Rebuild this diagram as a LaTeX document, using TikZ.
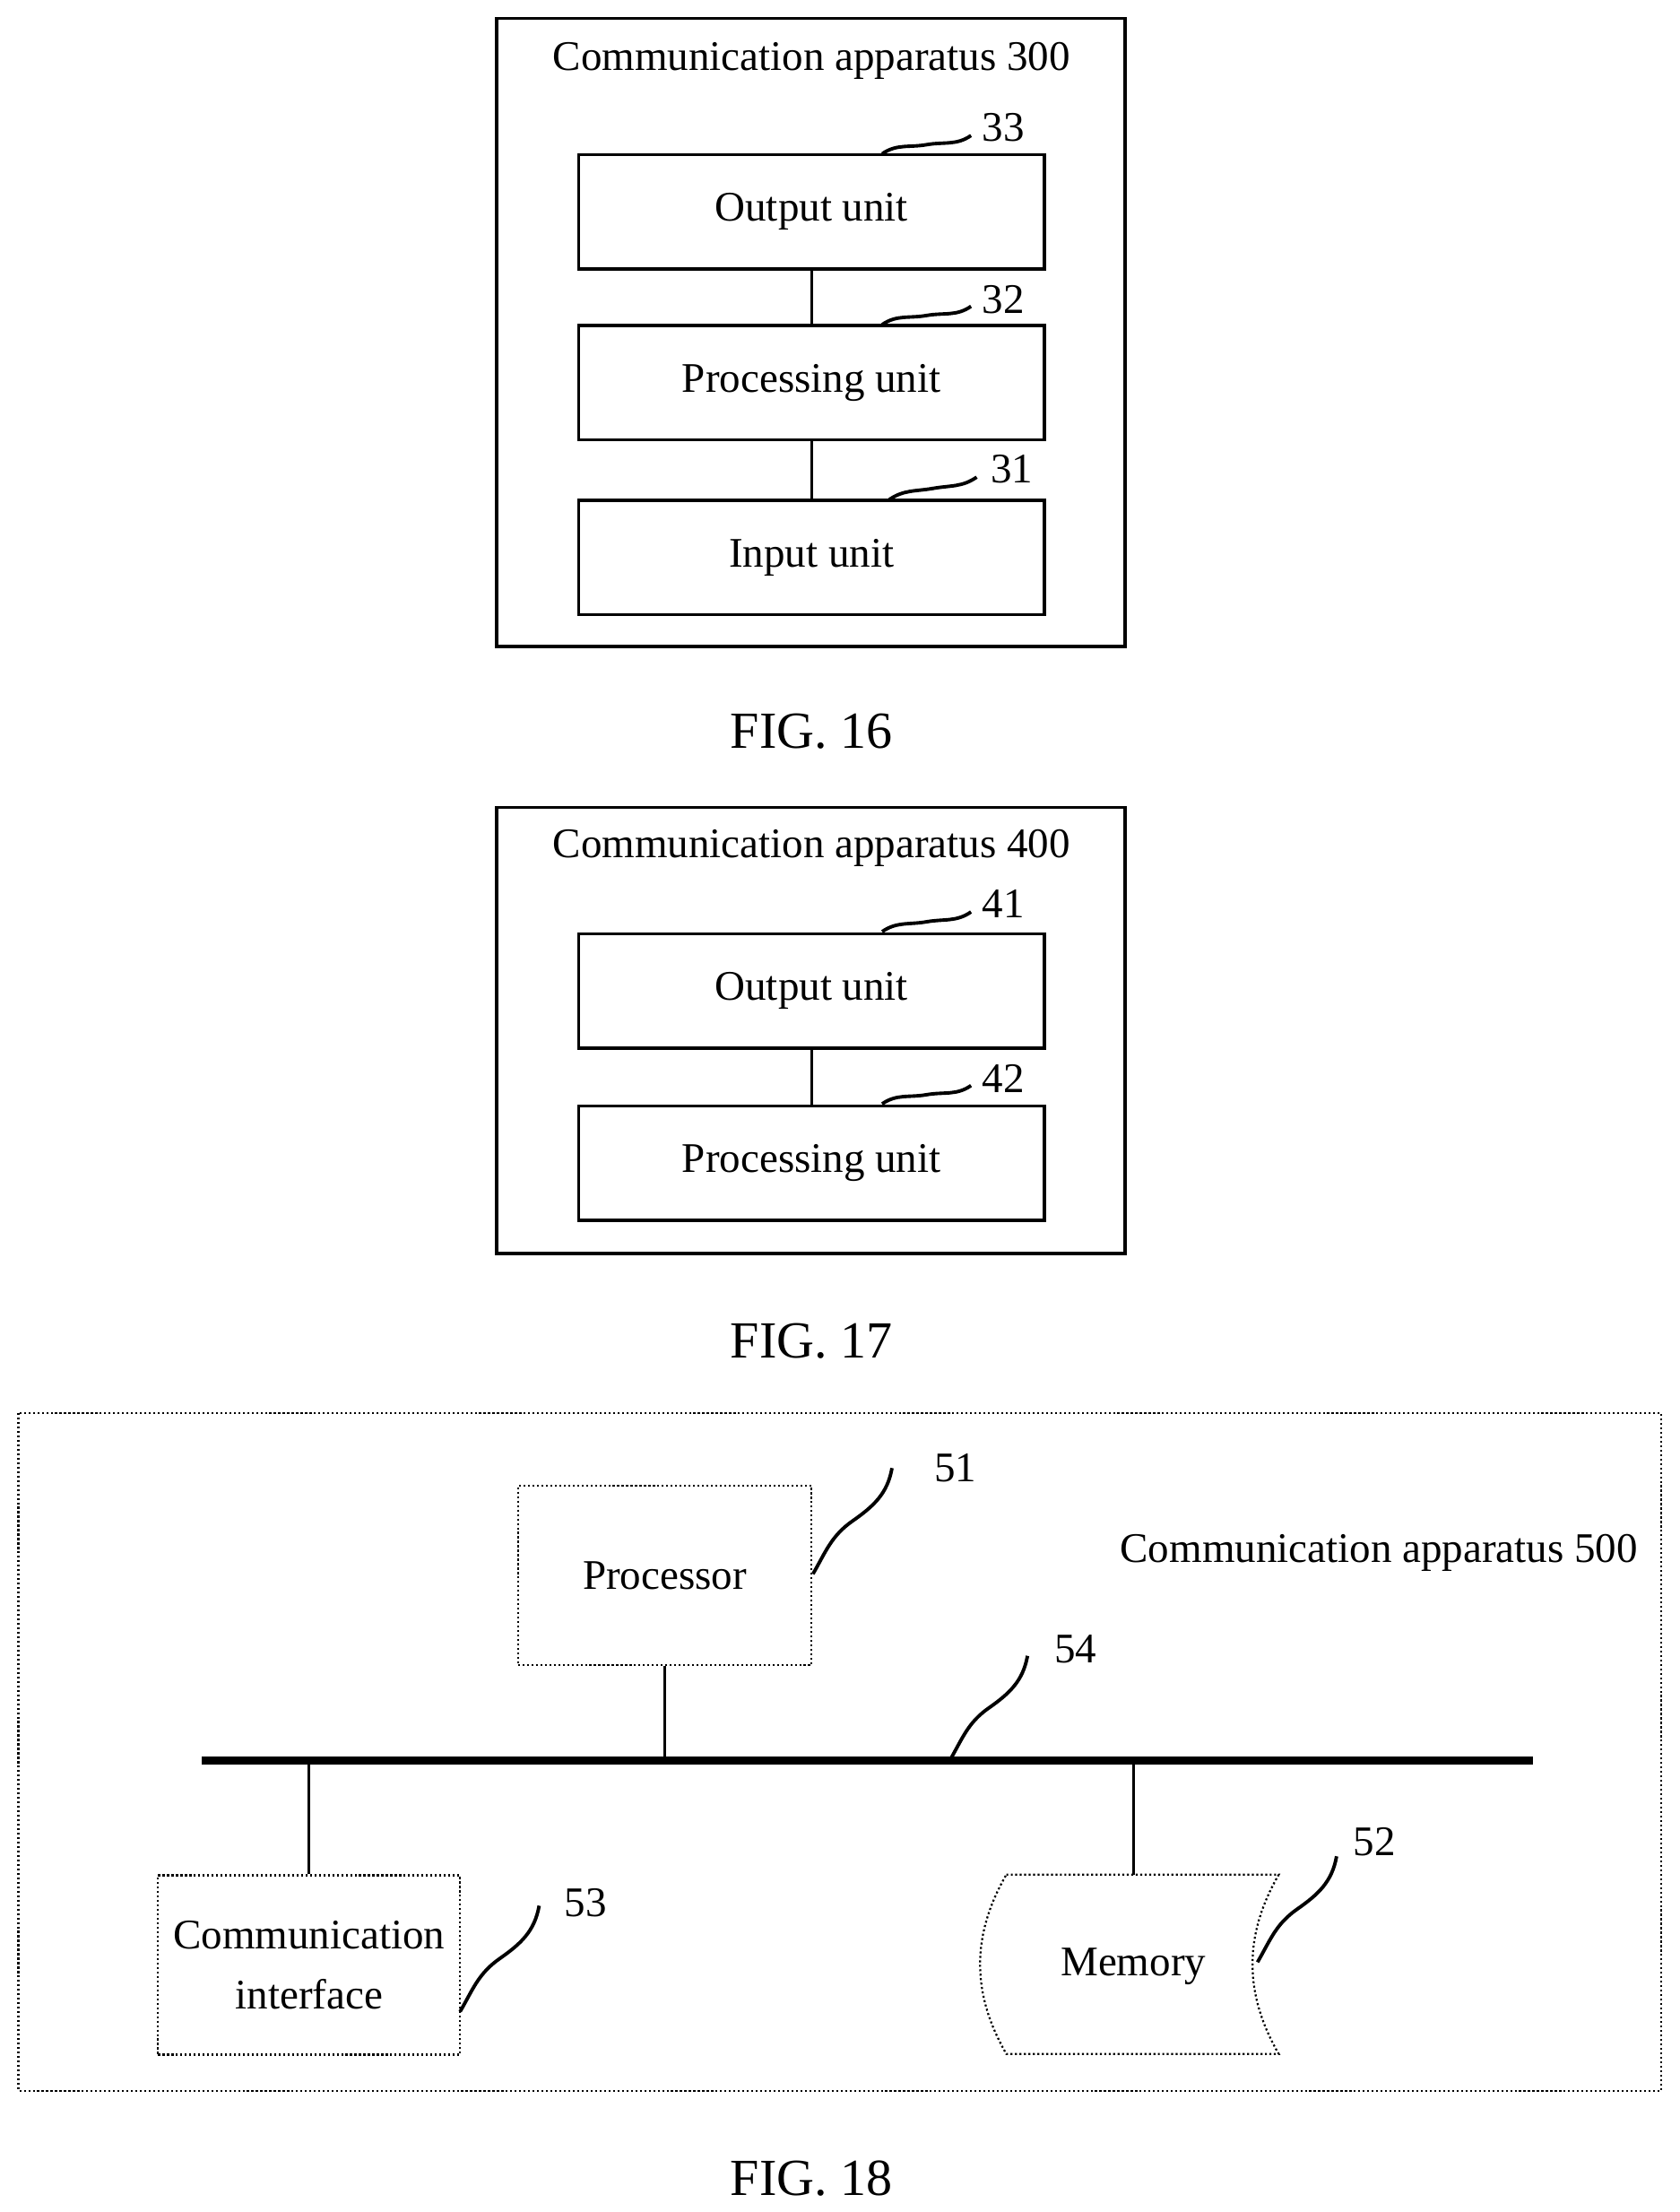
\documentclass[tikz,border=0pt]{standalone}
\usepackage{fontspec}
\setmainfont{Liberation Serif}
\usetikzlibrary{calc}

\tikzset{
  unit/.style = {draw, line width=1.2pt, minimum width=6.6cm, minimum height=1.62cm, inner sep=0pt},
  dotbox/.style = {draw, densely dotted, line width=0.8pt, inner sep=0pt, align=center},
  wig/.style = {line width=1.4pt}
}
\newcommand{\wiggle}[2]{\draw[wig] (#1) to[out=60,in=215] ($(#1)!0.5!(#2)$) to[out=35,in=260] (#2);}
\newcommand{\flatwig}[2]{\draw[wig] (#1) to[out=35,in=190] ($(#1)!0.5!(#2)$) to[out=10,in=215] (#2);}

\begin{document}
\begin{tikzpicture}[x=0.02cm, y=-0.02cm, font=\fontsize{17}{21}\selectfont]
\useasboundingbox (0,0) rectangle (1190,1567);

% FIG. 16
\draw[line width=1.4pt] (352,13) rectangle (797,458);
\node (t300) at (575,43) {Communication apparatus 300};
\node[unit] (out3) at (575,150) {Output unit};
\node[unit] (proc3) at (575,271) {Processing unit};
\node[unit] (in3) at (575,395) {Input unit};
\draw[line width=1.2pt] (out3) -- (proc3);
\draw[line width=1.2pt] (proc3) -- (in3);
\node (n33) at (711,90) {33};
\node (n32) at (711,212) {32};
\node (n31) at (717,332) {31};
\coordinate (a33) at (625,109); \coordinate (b33) at (688,96);
\coordinate (a32) at (625,230); \coordinate (b32) at (688,217);
\coordinate (a31) at (630,354); \coordinate (b31) at (692,338);
\flatwig{a33}{b33} \flatwig{a32}{b32} \flatwig{a31}{b31}
\node (f16) at (575,518) {\fontsize{21}{24}\selectfont FIG. 16};

% FIG. 17
\draw[line width=1.4pt] (352,572) rectangle (797,888);
\node (t400) at (575,601) {Communication apparatus 400};
\node[unit] (out4) at (575,702) {Output unit};
\node[unit] (proc4) at (575,824) {Processing unit};
\draw[line width=1.2pt] (out4) -- (proc4);
\node (n41) at (711,640) {41};
\node (n42) at (711,764) {42};
\coordinate (a41) at (625,660); \coordinate (b41) at (688,646);
\coordinate (a42) at (625,782); \coordinate (b42) at (688,769);
\flatwig{a41}{b41} \flatwig{a42}{b42}
\node (f17) at (575,950) {\fontsize{21}{24}\selectfont FIG. 17};

% FIG. 18
\draw[densely dotted, line width=0.8pt] (13,1001) rectangle (1177,1481);
\node[dotbox, minimum width=4.16cm, minimum height=2.54cm] (cpu) at (471,1116) {Processor};
\node (t500) at (977,1100) {Communication apparatus 500};
\coordinate (busL) at (143,1247); \coordinate (busR) at (1086,1247);
\draw[line width=3.2pt] (busL) -- (busR);
\node[dotbox, minimum width=4.28cm, minimum height=2.54cm] (cif) at (219,1392) {Communication\\[3pt]interface};
\draw[densely dotted, line width=0.8pt] (713,1328) -- (906,1328)
  to[out=240,in=120] (906,1455) -- (713,1455) to[out=120,in=240] (713,1328);
\node (mem) at (803,1393) {Memory};
\draw[line width=1.2pt] (cpu.south) -- (cpu.south |- busL);
\draw[line width=1.2pt] (cif.north) -- (cif.north |- busL);
\draw[line width=1.2pt] (803,1328) -- (803,1247);
\node (n51) at (677,1040) {51};
\node (n54) at (762,1168) {54};
\node (n53) at (415,1348) {53};
\node (n52) at (974,1305) {52};
\coordinate (a51) at (576,1115); \coordinate (b51) at (632,1040);
\coordinate (a54) at (673,1247); \coordinate (b54) at (728,1173);
\coordinate (a53) at (326,1425); \coordinate (b53) at (382,1350);
\coordinate (a52) at (891,1390); \coordinate (b52) at (947,1315);
\wiggle{a51}{b51} \wiggle{a54}{b54} \wiggle{a53}{b53} \wiggle{a52}{b52}
\node (f18) at (575,1543) {\fontsize{21}{24}\selectfont FIG. 18};
\end{tikzpicture}
\end{document}
